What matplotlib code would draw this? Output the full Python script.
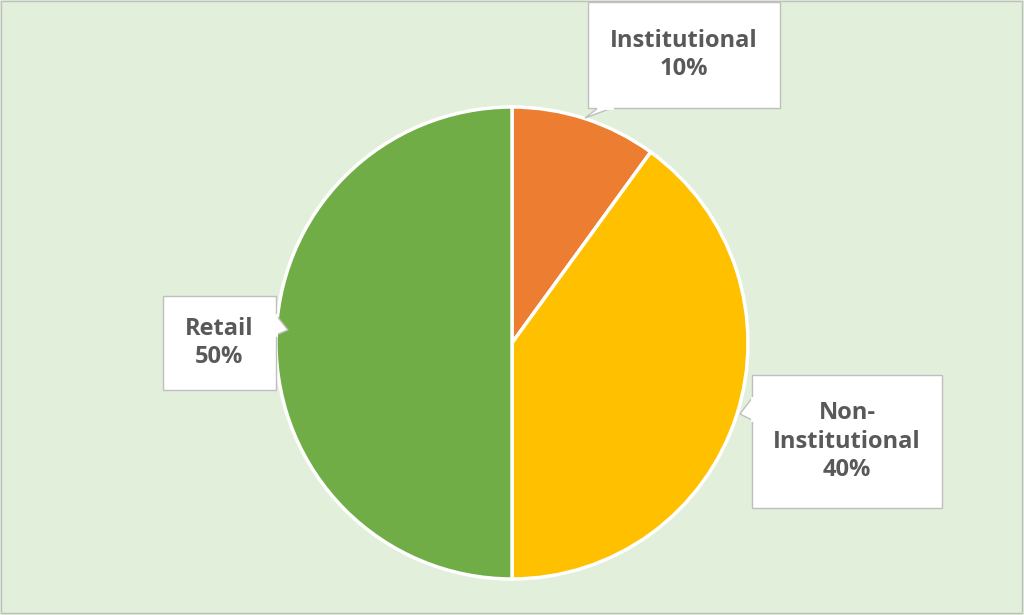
import matplotlib
matplotlib.use("Agg")
import matplotlib.pyplot as plt
from matplotlib.patches import Polygon

categories = ["Institutional", "Non-Institutional", "Retail"]
values = [10, 40, 50]
colors = ["#ED7D31", "#FFC000", "#70AD47"]
label_texts = ["Institutional\n10%", "Non-\nInstitutional\n40%", "Retail\n50%"]

W, H = 1024, 615
fig = plt.figure(figsize=(10.24, 6.15), dpi=100)
fig.patch.set_facecolor("#E2EFDA")
ax = fig.add_axes([0, 0, 1, 1])
ax.set_xlim(0, W); ax.set_ylim(H, 0)
ax.set_aspect("equal"); ax.axis("off")
ax.add_patch(plt.Rectangle((1, 1), W - 3, H - 3, fill=False, ec="#BFBFBF", lw=1))

# pie (inverted y axis -> counterclock=True draws clockwise visually)
ax.pie(values, colors=colors, startangle=-90, counterclock=True,
       center=(512, 343), radius=236, frame=True,
       wedgeprops=dict(edgecolor="white", linewidth=2.5))
ax.set_xlim(0, W); ax.set_ylim(H, 0); ax.axis("off")

# callouts: box (x0, y0, x1, y1), pointer base points and tip
callouts = [
    ((588, 2, 780, 108), [(612, 108), (598, 108)], (585, 118)),
    ((752, 375, 942, 508), [(752, 398), (752, 420)], (740, 414)),
    ((163, 296, 276, 390), [(276, 335), (276, 315)], (288, 330)),
]
for (x0, y0, x1, y1), base, tip in callouts:
    ax.add_patch(plt.Rectangle((x0, y0), x1 - x0, y1 - y0, fc="white",
                               ec="#BFBFBF", lw=1, zorder=5))
    ax.add_patch(Polygon([base[0], tip, base[1]], closed=False, fc="white",
                         ec="#BFBFBF", lw=1, zorder=6))
    ax.plot([base[0][0], base[1][0]], [base[0][1], base[1][1]], color="white",
            lw=2, zorder=7)
for (box, _, _), txt in zip(callouts, label_texts):
    x0, y0, x1, y1 = box
    ax.text((x0 + x1) / 2, (y0 + y1) / 2, txt, ha="center", va="center",
            fontsize=17, fontweight="bold", color="#595959",
            family=["Open Sans", "DejaVu Sans"], linespacing=1.25, zorder=8)

fig.savefig("out.png", dpi=100, facecolor=fig.get_facecolor())
